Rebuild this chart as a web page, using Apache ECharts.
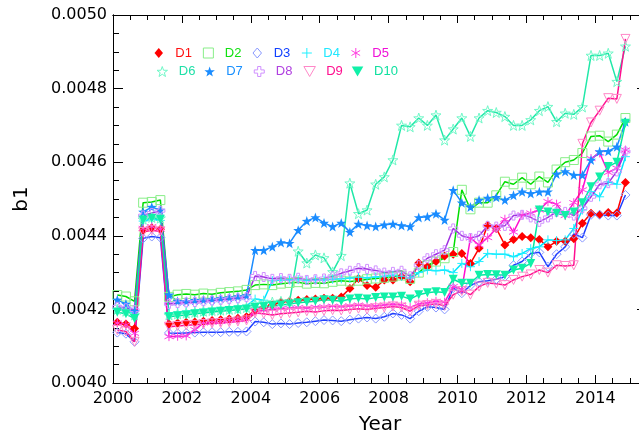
<!DOCTYPE html>
<html>
<head>
<meta charset="utf-8">
<title>b1 by year</title>
<script src="https://cdn.jsdelivr.net/npm/echarts@6.0.0/dist/echarts.min.js"></script>
<style>
  html, body { margin: 0; padding: 0; background: #fff; }
  #chart { width: 639px; height: 435px; }
</style>
</head>
<body>
<div id="chart"></div>
<script>
// quarterly sample times (decimal year)
const quarters = [
  2000.125, 2000.375, 2000.625, 2000.875, 2001.125, 2001.375, 2001.625, 2001.875,
  2002.125, 2002.375, 2002.625, 2002.875, 2003.125, 2003.375, 2003.625, 2003.875,
  2004.125, 2004.375, 2004.625, 2004.875, 2005.125, 2005.375, 2005.625, 2005.875,
  2006.125, 2006.375, 2006.625, 2006.875, 2007.125, 2007.375, 2007.625, 2007.875,
  2008.125, 2008.375, 2008.625, 2008.875, 2009.125, 2009.375, 2009.625, 2009.875,
  2010.125, 2010.375, 2010.625, 2010.875, 2011.125, 2011.375, 2011.625, 2011.875,
  2012.125, 2012.375, 2012.625, 2012.875, 2013.125, 2013.375, 2013.625, 2013.875,
  2014.125, 2014.375, 2014.625, 2014.875
];

const seriesNames = ['D1', 'D2', 'D3', 'D4', 'D5', 'D6', 'D7', 'D8', 'D9', 'D10'];

const d1 = [
  0.004165, 0.004160, 0.004148, 0.004415, 0.004422, 0.004418, 0.004160, 0.004163,
  0.004165, 0.004166, 0.004168, 0.004170, 0.004172, 0.004174, 0.004176, 0.004180,
  0.004198, 0.004205, 0.004212, 0.004220, 0.004222, 0.004225, 0.004227, 0.004228,
  0.004230, 0.004230, 0.004234, 0.004257, 0.004284, 0.004265, 0.004260, 0.004280,
  0.004280, 0.004290, 0.004275, 0.004326, 0.004316, 0.004330, 0.004345, 0.004350,
  0.004352, 0.004325, 0.004366, 0.004429, 0.004420, 0.004375, 0.004390, 0.004398,
  0.004395, 0.004390, 0.004370, 0.004385, 0.004385, 0.004392, 0.004434, 0.004461,
  0.004458, 0.004463, 0.004462, 0.004545
];
const d2 = [
  0.004239, 0.004235, 0.004222, 0.004490, 0.004492, 0.004497, 0.004234, 0.004240,
  0.004242, 0.004240, 0.004243, 0.004241, 0.004245, 0.004247, 0.004249, 0.004253,
  0.004266, 0.004268, 0.004266, 0.004270, 0.004272, 0.004274, 0.004270, 0.004272,
  0.004271, 0.004275, 0.004278, 0.004276, 0.004278, 0.004282, 0.004284, 0.004286,
  0.004289, 0.004292, 0.004283, 0.004300, 0.004320, 0.004330, 0.004339, 0.004356,
  0.004525, 0.004472, 0.004490, 0.004490, 0.004510, 0.004547, 0.004540, 0.004558,
  0.004540, 0.004561, 0.004545, 0.004580, 0.004600, 0.004606, 0.004625, 0.004670,
  0.004672, 0.004656, 0.004675, 0.004720
];
const d3 = [
  0.004137, 0.004134, 0.004112, 0.004393, 0.004398, 0.004395, 0.004136, 0.004135,
  0.004136, 0.004137, 0.004138, 0.004138, 0.004138, 0.004139, 0.004139, 0.004140,
  0.004167, 0.004165, 0.004160, 0.004162, 0.004160, 0.004163, 0.004165, 0.004168,
  0.004171, 0.004170, 0.004168, 0.004172, 0.004175, 0.004178, 0.004175, 0.004180,
  0.004189, 0.004185, 0.004175, 0.004195, 0.004207, 0.004205, 0.004200, 0.004258,
  0.004244, 0.004265, 0.004275, 0.004278, 0.004282, 0.004289, 0.004320, 0.004330,
  0.004352, 0.004355, 0.004316, 0.004350, 0.004370, 0.004405, 0.004395, 0.004457,
  0.004457, 0.004455, 0.004455, 0.004511
];
const d4 = [
  0.004200, 0.004198, 0.004190, 0.004440, 0.004445, 0.004442, 0.004190, 0.004192,
  0.004195, 0.004197, 0.004200, 0.004202, 0.004204, 0.004206, 0.004208, 0.004210,
  0.004228, 0.004225, 0.004278, 0.004280, 0.004280, 0.004281, 0.004279, 0.004280,
  0.004280, 0.004282, 0.004283, 0.004285, 0.004287, 0.004286, 0.004288, 0.004290,
  0.004293, 0.004290, 0.004285, 0.004300, 0.004307, 0.004305, 0.004307, 0.004300,
  0.004325, 0.004316, 0.004330, 0.004352, 0.004350, 0.004350, 0.004343, 0.004352,
  0.004365, 0.004370, 0.004389, 0.004387, 0.004389, 0.004420, 0.004470, 0.004520,
  0.004506, 0.004547, 0.004540, 0.004615
];
const d5 = [
  0.004163, 0.004158, 0.004135, 0.004420, 0.004425, 0.004418, 0.004126, 0.004127,
  0.004128, 0.004145, 0.004163, 0.004165, 0.004167, 0.004170, 0.004172, 0.004175,
  0.004195, 0.004198, 0.004200, 0.004202, 0.004203, 0.004205, 0.004204, 0.004206,
  0.004207, 0.004209, 0.004208, 0.004210, 0.004212, 0.004210, 0.004209, 0.004212,
  0.004214, 0.004212, 0.004205, 0.004215, 0.004218, 0.004222, 0.004220, 0.004262,
  0.004255, 0.004394, 0.004375, 0.004395, 0.004420, 0.004445, 0.004410, 0.004457,
  0.004462, 0.004470, 0.004493, 0.004486, 0.004455, 0.004490, 0.004525, 0.004610,
  0.004625, 0.004572, 0.004584, 0.004633
];
const d6 = [
  0.004200, 0.004195, 0.004185, 0.004445, 0.004450, 0.004448, 0.004185, 0.004188,
  0.004190, 0.004192, 0.004195, 0.004197, 0.004198, 0.004200, 0.004202, 0.004205,
  0.004215, 0.004218, 0.004220, 0.004222, 0.004222, 0.004358, 0.004326, 0.004348,
  0.004340, 0.004302, 0.004346, 0.004543, 0.004460, 0.004470, 0.004540, 0.004560,
  0.004606, 0.004700, 0.004696, 0.004720, 0.004700, 0.004728, 0.004660, 0.004690,
  0.004720, 0.004670, 0.004720, 0.004740, 0.004735, 0.004724, 0.004700, 0.004700,
  0.004715, 0.004740, 0.004751, 0.004710, 0.004733, 0.004730, 0.004750, 0.004890,
  0.004890, 0.004896, 0.004819, 0.004915
];
const d7 = [
  0.004226, 0.004215, 0.004195, 0.004465, 0.004478, 0.004470, 0.004240, 0.004222,
  0.004222, 0.004225, 0.004226, 0.004228, 0.004230, 0.004232, 0.004235, 0.004238,
  0.004361, 0.004361, 0.004370, 0.004382, 0.004380, 0.004415, 0.004440, 0.004450,
  0.004435, 0.004425, 0.004435, 0.004410, 0.004432, 0.004428, 0.004425, 0.004430,
  0.004432, 0.004428, 0.004425, 0.004450, 0.004452, 0.004460, 0.004443, 0.004524,
  0.004490, 0.004478, 0.004497, 0.004503, 0.004505, 0.004497, 0.004510, 0.004520,
  0.004515, 0.004520, 0.004520, 0.004568, 0.004575, 0.004565, 0.004565, 0.004606,
  0.004629, 0.004630, 0.004642, 0.004710
];
const d8 = [
  0.004207, 0.004203, 0.004198, 0.004455, 0.004462, 0.004468, 0.004215, 0.004217,
  0.004219, 0.004220, 0.004222, 0.004224, 0.004226, 0.004228, 0.004230, 0.004233,
  0.004291, 0.004288, 0.004283, 0.004285, 0.004283, 0.004286, 0.004280, 0.004282,
  0.004284, 0.004290, 0.004298, 0.004305, 0.004312, 0.004310, 0.004306, 0.004300,
  0.004302, 0.004305, 0.004290, 0.004320, 0.004339, 0.004350, 0.004361, 0.004420,
  0.004400, 0.004394, 0.004400, 0.004427, 0.004425, 0.004427, 0.004455, 0.004457,
  0.004450, 0.004438, 0.004450, 0.004465, 0.004465, 0.004455, 0.004475, 0.004506,
  0.004540, 0.004543, 0.004575, 0.004629
];
const d9 = [
  0.004144, 0.004140, 0.004112, 0.004410, 0.004415, 0.004412, 0.004153, 0.004155,
  0.004157, 0.004158, 0.004160, 0.004162, 0.004163, 0.004165, 0.004167, 0.004170,
  0.004190, 0.004188, 0.004185, 0.004188, 0.004190, 0.004192, 0.004195, 0.004193,
  0.004196, 0.004198, 0.004197, 0.004200, 0.004202, 0.004200, 0.004203, 0.004205,
  0.004208, 0.004205, 0.004195, 0.004210, 0.004212, 0.004215, 0.004210, 0.004240,
  0.004250, 0.004240, 0.004262, 0.004272, 0.004270, 0.004266, 0.004280, 0.004289,
  0.004295, 0.004307, 0.004300, 0.004320, 0.004318, 0.004320, 0.004650, 0.004708,
  0.004740, 0.004774, 0.004772, 0.004935
];
const d10 = [
  0.004192, 0.004188, 0.004175, 0.004443, 0.004448, 0.004445, 0.004180, 0.004183,
  0.004185, 0.004188, 0.004190, 0.004193, 0.004195, 0.004197, 0.004199, 0.004201,
  0.004205, 0.004207, 0.004210, 0.004212, 0.004215, 0.004218, 0.004220, 0.004222,
  0.004226, 0.004225, 0.004222, 0.004228, 0.004230, 0.004228, 0.004232, 0.004234,
  0.004234, 0.004236, 0.004228, 0.004240, 0.004245, 0.004248, 0.004246, 0.004282,
  0.004271, 0.004271, 0.004293, 0.004295, 0.004294, 0.004293, 0.004307, 0.004312,
  0.004325, 0.004470, 0.004465, 0.004461, 0.004455, 0.004465, 0.004490, 0.004533,
  0.004560, 0.004588, 0.004600, 0.004706
];
const seriesValues = [d1, d2, d3, d4, d5, d6, d7, d8, d9, d10];

// marker shapes (all paths so the legend keeps their aspect)
const DIAMOND = 'path://M0,-1L0.85,0L0,1L-0.85,0Z';
const SQUARE = 'path://M-1,-1L1,-1L1,1L-1,1Z';
const STAR = 'path://M0,-1L0.235,-0.324L0.951,-0.309L0.38,0.124L0.588,0.809L0,0.4L-0.588,0.809L-0.38,0.124L-0.951,-0.309L-0.235,-0.324Z';
const CROSS = 'path://M-0.32,-1L0.32,-1L0.32,-0.32L1,-0.32L1,0.32L0.32,0.32L0.32,1L-0.32,1L-0.32,0.32L-1,0.32L-1,-0.32L-0.32,-0.32Z';
const PLUS = 'path://M0,-1L0,1M-1,0L1,0';
const ASTER = 'path://M0,-1L0,1M-0.866,-0.5L0.866,0.5M-0.866,0.5L0.866,-0.5';
const DOWNTRI = 'path://M0,0L2,0L1,1.732Z';

// line colour, marker colour, marker shape, filled?, text colour, size
const looks = [
  { line: '#ff0000', mark: '#ff0000', symbol: DIAMOND, filled: true, text: '#ff1010', size: 9 },
  { line: '#00dd00', mark: '#88ee88', symbol: SQUARE, filled: false, text: '#10e010', size: 9 },
  { line: '#1f3fff', mark: '#8898ff', symbol: DIAMOND, filled: false, text: '#1040ff', size: 9 },
  { line: '#00e5ff', mark: '#20f0ff', symbol: PLUS, filled: false, text: '#20e8ff', size: 9 },
  { line: '#ff10d0', mark: '#ff40e0', symbol: ASTER, filled: false, text: '#f010d8', size: 9 },
  { line: '#20e8a8', mark: '#70f8c8', symbol: STAR, filled: false, text: '#20e0a8', size: 10 },
  { line: '#1a8cff', mark: '#1a8cff', symbol: STAR, filled: true, text: '#1890ff', size: 10 },
  { line: '#a030e0', mark: '#d090ff', symbol: CROSS, filled: false, text: '#b040e0', size: 9 },
  { line: '#ff1090', mark: '#ff88c8', symbol: DOWNTRI, filled: false, text: '#ff1090', size: 9 },
  { line: '#00e8a0', mark: '#10f0a8', symbol: DOWNTRI, filled: true, text: '#10e0a0', size: 9 }
];

function markStyle(lk) {
  if (lk.filled) {
    return { color: lk.mark, borderColor: lk.mark, borderWidth: 0 };
  }
  return { color: 'none', borderColor: lk.mark, borderWidth: 1 };
}

function legendRow(from, to, top) {
  const data = [];
  for (let i = from; i < to; i++) {
    data.push({
      name: seriesNames[i],
      icon: looks[i].symbol,
      itemStyle: markStyle(looks[i]),
      textStyle: { color: looks[i].text }
    });
  }
  return {
    left: 154.5,
    top: top,
    padding: 0,
    itemWidth: 23,
    itemHeight: 10,
    itemGap: 9,
    symbolKeepAspect: true,
    selectedMode: false,
    textStyle: { fontFamily: 'Liberation Sans', fontSize: 13 },
    data: data
  };
}

function xAx(position, interval, len, withLabels) {
  return {
    type: 'value',
    position: position,
    min: 2000,
    max: 2015.5,
    interval: interval,
    axisLine: { show: true, lineStyle: { color: '#000', width: 1 } },
    axisTick: { inside: true, length: len, lineStyle: { color: '#000', width: 1 } },
    axisLabel: withLabels ? {
      margin: 8,
      fontFamily: 'DejaVu Sans',
      fontSize: 16,
      color: '#000',
      formatter: function (v) { return (v % 2 === 0) ? String(v) : ''; }
    } : { show: false },
    splitLine: { show: false }
  };
}

function yAx(position, interval, len, withLabels) {
  return {
    type: 'value',
    position: position,
    min: 0.004,
    max: 0.005,
    interval: interval,
    axisLine: { show: true, lineStyle: { color: '#000', width: 1 } },
    axisTick: { inside: true, length: len, lineStyle: { color: '#000', width: 1 } },
    axisLabel: withLabels ? {
      margin: 6,
      fontFamily: 'DejaVu Sans',
      fontSize: 16,
      color: '#000',
      formatter: function (v) { return v.toFixed(4); }
    } : { show: false },
    splitLine: { show: false }
  };
}

function setOption(chart) {
  const xMain = xAx('bottom', 2, 8, true);
  xMain.name = 'Year';
  xMain.nameLocation = 'middle';
  xMain.nameGap = 32;
  xMain.nameTextStyle = { fontFamily: 'DejaVu Sans', fontSize: 20, color: '#000' };

  const yMain = yAx('left', 0.0002, 10, true);
  yMain.name = 'b1';
  yMain.nameLocation = 'middle';
  yMain.nameGap = 81;
  yMain.nameTextStyle = { fontFamily: 'DejaVu Sans', fontSize: 20, color: '#000' };

  const series = seriesNames.map(function (name, i) {
    const lk = looks[i];
    return {
      name: name,
      type: 'line',
      xAxisIndex: 0,
      yAxisIndex: 0,
      data: quarters.map(function (t, k) { return [t, seriesValues[i][k]]; }),
      symbol: lk.symbol,
      symbolSize: lk.size,
      showSymbol: true,
      lineStyle: { color: lk.line, width: 1.5 },
      itemStyle: markStyle(lk),
      emphasis: { disabled: true }
    };
  });

  const option = {
    animation: false,
    backgroundColor: '#fff',
    // plot box runs past the right edge of the picture, as in the original crop
    grid: { left: 113, top: 15, width: 534, height: 368, containLabel: false, outerBoundsMode: 'none' },
    legend: [legendRow(0, 5, 45.5), legendRow(5, 10, 64)],
    xAxis: [
      xMain,
      xAx('bottom', 0.5, 5, false),   // minor ticks
      xAx('top', 2, 8, false),
      xAx('top', 0.5, 5, false)
    ],
    yAxis: [
      yMain,
      yAx('left', 0.00005, 6, false), // minor ticks
      yAx('right', 0.0002, 10, false),
      yAx('right', 0.00005, 6, false)
    ],
    series: series
  };
  chart.setOption(option);
}

const chart = echarts.init(document.getElementById('chart'), null, { renderer: 'canvas' });
setOption(chart);
</script>
</body>
</html>
